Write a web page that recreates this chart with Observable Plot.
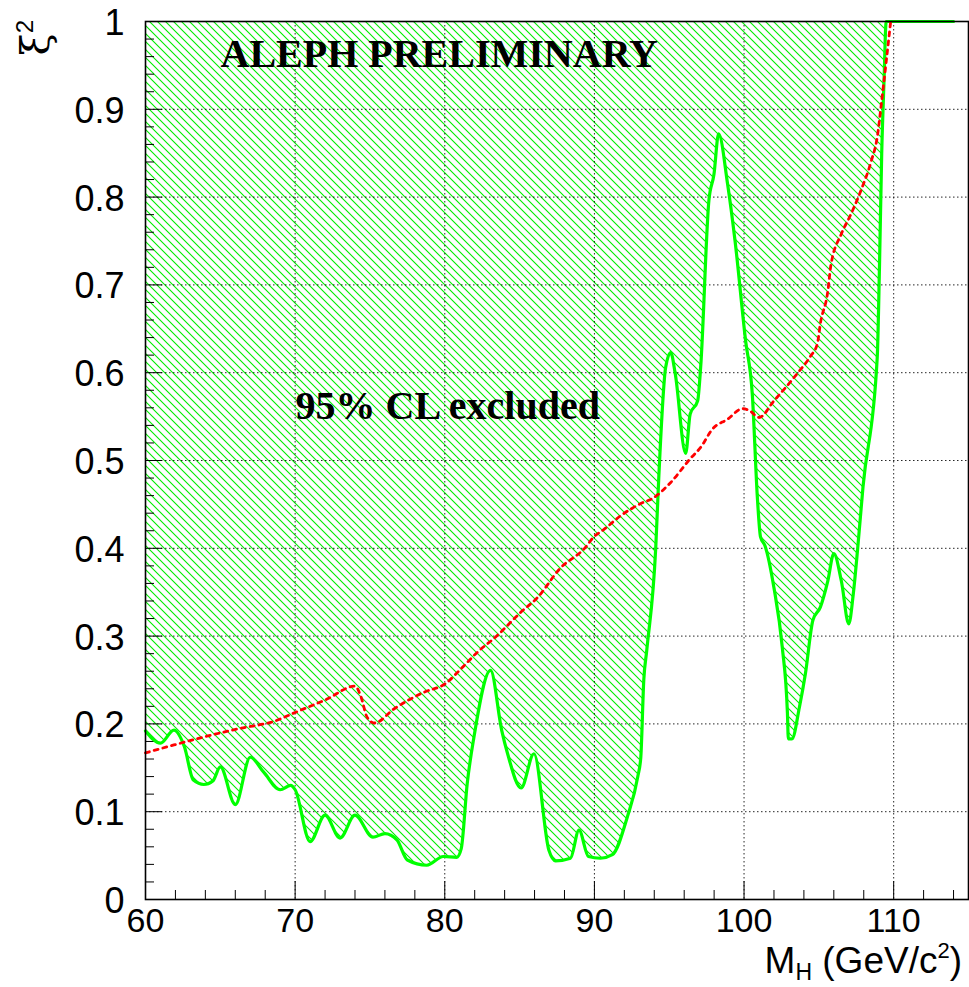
<!DOCTYPE html>
<html>
<head>
<meta charset="utf-8">
<script src="https://cdn.jsdelivr.net/npm/d3@7"></script>
<script src="https://cdn.jsdelivr.net/npm/@observablehq/plot@0.6"></script>
<style>
  html, body { margin: 0; padding: 0; background: #fff; }
</style>
</head>
<body>
<div id="chart"></div>
<script>
// Observed 95% CL limit on xi^2 (solid green)
const obsMass = [60.0, 61.0, 61.9, 62.6, 63.2, 63.9, 64.5, 65.0, 66.0, 67.0, 67.9, 69.0, 69.7, 70.0,
  71.0, 72.0, 73.0, 74.0, 75.2, 76.0, 76.8, 77.5, 78.8, 79.9, 80.8, 81.1, 81.5, 81.95,
  83.06, 83.8, 84.2, 85.1, 85.96, 86.96, 87.4, 88.4, 88.97, 89.6, 90.4, 91.2, 92.2, 92.9,
  93.1, 93.3, 93.5, 94.1, 94.3, 94.76, 95.1, 95.4, 96.1, 96.4, 96.9, 97.1, 97.65, 97.99,
  98.3, 98.9, 99.4, 100.1, 100.55, 100.9, 101.1, 101.4, 101.99, 102.55, 102.9, 102.96,
  103.2, 103.7, 104.1, 104.6, 105.1, 105.6, 106.0, 106.5, 107.0, 107.3, 107.6, 107.95,
  108.9, 109.05, 109.2, 109.35, 109.5, 114.0];
const obsXi = [0.192, 0.178, 0.193, 0.174, 0.136, 0.131, 0.135, 0.151, 0.108, 0.162, 0.145, 0.125, 0.130, 0.125,
  0.066, 0.096, 0.070, 0.096, 0.071, 0.075, 0.068, 0.045, 0.039, 0.049, 0.048, 0.058, 0.132, 0.185,
  0.261, 0.193, 0.166, 0.127, 0.166, 0.056, 0.044, 0.047, 0.079, 0.049, 0.047, 0.051, 0.094, 0.140,
  0.162, 0.250, 0.284, 0.401, 0.480, 0.606, 0.623, 0.599, 0.508, 0.553, 0.568, 0.606, 0.796, 0.826,
  0.872, 0.815, 0.750, 0.637, 0.576, 0.455, 0.413, 0.403, 0.356, 0.288, 0.212, 0.183,
  0.183, 0.219, 0.257, 0.318, 0.333, 0.363, 0.394, 0.363, 0.314, 0.348, 0.401, 0.470,
  0.617, 0.720, 0.850, 0.930, 1.000, 1.000];

// Expected limit (dashed red)
const expMass = [60.0, 61.9, 64.1, 66.35, 68.6, 70.0, 72.1, 74.0, 74.4, 74.8, 75.3, 76.6, 78.6, 80.05,
  81.1, 82.2, 83.4, 85.07, 86.2, 87.7, 89.4, 89.96, 90.6, 91.75, 93.1, 93.9, 95.1, 96.4, 97.1,
  97.9, 98.9, 99.9, 100.35, 101.0, 102.0, 103.6, 104.45, 104.9, 105.1, 105.6, 105.8, 106.5,
  107.1, 107.8, 108.5, 108.9, 109.2, 109.8];
const expXi = [0.167, 0.176, 0.186, 0.195, 0.203, 0.213, 0.228, 0.243, 0.231, 0.208, 0.201, 0.217, 0.236, 0.246,
  0.263, 0.282, 0.299, 0.327, 0.344, 0.377, 0.401, 0.413, 0.421, 0.437, 0.451, 0.457, 0.475, 0.502, 0.515,
  0.536, 0.547, 0.559, 0.557, 0.549, 0.568, 0.600, 0.619, 0.633, 0.656, 0.693, 0.722, 0.758,
  0.779, 0.807, 0.841, 0.868, 0.910, 1.000];

// Axes
const xDomain = [60, 115];
const yDomain = [0, 1];
const xMajor = [60, 70, 80, 90, 100, 110];
const xTickLabels = ["60", "70", "80", "90", "100", "110"];
const xMinor = [62, 64, 66, 68, 72, 74, 76, 78, 82, 84, 86, 88, 92, 94, 96, 98, 102, 104, 106, 108, 112, 114];
const xGrid = [70, 80, 90, 100, 110];
const yMajor = [0, 0.1, 0.2, 0.3, 0.4, 0.5, 0.6, 0.7, 0.8, 0.9, 1];
const yTickLabels = ["0", "0.1", "0.2", "0.3", "0.4", "0.5", "0.6", "0.7", "0.8", "0.9", "1"];
const yMinor = d3.range(0, 1.0001, 0.02).filter(v => Math.abs(v * 10 - Math.round(v * 10)) > 1e-6);
const yGrid = [0.1, 0.2, 0.3, 0.4, 0.5, 0.6, 0.7, 0.8, 0.9];

const titleText = "ALEPH PRELIMINARY";
const regionText = "95% CL excluded";

const observed = obsMass.map((m, i) => ({m, xi: obsXi[i]}));
const expected = expMass.map((m, i) => ({m, xi: expXi[i]}));

const W = 969, H = 987, ML = 145, MR = 1, MT = 21, MB = 88;
const FW = W - ML - MR, FH = H - MT - MB;
const curve = "monotone-x";

const svg = Plot.plot({
  width: W, height: H,
  marginLeft: ML, marginRight: MR, marginTop: MT, marginBottom: MB,
  style: {background: "#fff", fontFamily: "'Liberation Sans', Arial, sans-serif"},
  x: {domain: xDomain, axis: null},
  y: {domain: yDomain, axis: null},
  marks: [
    Plot.areaY(observed, {x: "m", y1: "xi", y2: () => yDomain[1], fill: "url(#hatch)", curve}),
    Plot.gridX(xGrid, {stroke: "#000", strokeOpacity: 0.85, strokeDasharray: "1.5,2.5", strokeWidth: 1}),
    Plot.gridY(yGrid, {stroke: "#000", strokeOpacity: 0.85, strokeDasharray: "1.5,2.5", strokeWidth: 1}),
    // inward ticks
    Plot.tickY(yMajor, {y: d => d, stroke: "#000", strokeWidth: 1, insetRight: FW - 17}),
    Plot.tickY(yMinor, {y: d => d, stroke: "#000", strokeWidth: 1, insetRight: FW - 9}),
    Plot.tickX(xMajor, {x: d => d, stroke: "#000", strokeWidth: 1, insetTop: FH - 18}),
    Plot.tickX(xMinor, {x: d => d, stroke: "#000", strokeWidth: 1, insetTop: FH - 9}),
    Plot.axisX({ticks: xMajor, tickFormat: (d, i) => xTickLabels[i], tickSize: 0, tickPadding: 8, fontSize: 34, label: null, anchor: "bottom"}),
    Plot.axisY({ticks: yMajor, tickFormat: (d, i) => yTickLabels[i], tickSize: 0, tickPadding: 21, fontSize: 36, label: null, anchor: "left", dy: 2}),
    Plot.text([titleText], {text: d => d, frameAnchor: "top-left", dx: 75, dy: 17, lineAnchor: "top", textAnchor: "start",
      fontFamily: "'Liberation Serif', 'Times New Roman', serif", fontWeight: "bold", fontSize: 40, fill: "#000"}),
    Plot.text([regionText], {text: d => d, frameAnchor: "top-left", dx: 150, dy: 369, lineAnchor: "top", textAnchor: "start",
      fontFamily: "'Liberation Serif', 'Times New Roman', serif", fontWeight: "bold", fontSize: 40, fill: "#000"}),
    Plot.line(observed, {x: "m", y: "xi", stroke: "#00ff00", strokeWidth: 3.2, curve}),
    Plot.line(expected, {x: "m", y: "xi", stroke: "#ff0000", strokeWidth: 2.8, strokeDasharray: "4,5", curve}),
    Plot.frame({stroke: "#000", strokeWidth: 1.6})
  ]
});

// hatch pattern
const sel = d3.select(svg);
const defs = sel.insert("defs", ":first-child");
const pat = defs.append("pattern")
  .attr("id", "hatch").attr("patternUnits", "userSpaceOnUse")
  .attr("width", 8).attr("height", 8);
pat.append("path")
  .attr("d", "M0,0L8,8M-1,7L1,9M7,-1L9,1")
  .attr("stroke", "#00ee00").attr("stroke-width", 1.1).attr("fill", "none");

// axis titles
const xt = sel.append("text")
  .attr("x", 962).attr("y", 973)
  .attr("text-anchor", "end")
  .attr("font-family", "'Liberation Sans', Arial, sans-serif")
  .attr("font-size", 37).attr("fill", "#000");
xt.append("tspan").text("M");
xt.append("tspan").attr("font-size", 23).attr("dy", 7).text("H");
xt.append("tspan").attr("dy", -7).text(" (GeV/c");
xt.append("tspan").attr("font-size", 22).attr("dy", -15).text("2");
xt.append("tspan").attr("dy", 15).text(")");

const yt = sel.append("text")
  .attr("transform", "translate(49,20) rotate(-90)")
  .attr("text-anchor", "end")
  .attr("font-family", "'DejaVu Serif', 'Liberation Serif', serif")
  .attr("font-size", 40).attr("fill", "#000");
yt.append("tspan").text("ξ");
yt.append("tspan").attr("font-size", 24).attr("dy", -16).attr("font-family", "'Liberation Sans', Arial, sans-serif").text("2");

document.getElementById("chart").appendChild(svg);
</script>
</body>
</html>
